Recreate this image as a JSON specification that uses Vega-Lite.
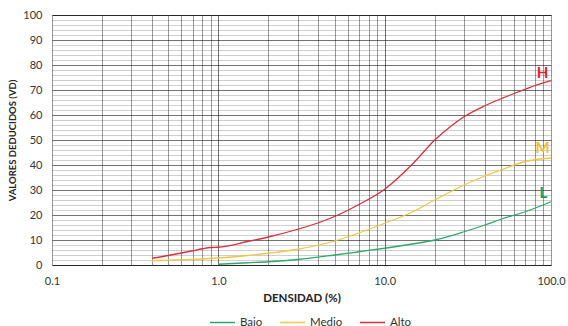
{
  "$schema": "https://vega.github.io/schema/vega-lite/v6.json",
  "width": 499,
  "height": 250,
  "autosize": "none",
  "padding": {"left": 52, "top": 15, "right": 17, "bottom": 61},
  "config": {
    "font": "Lato",
    "view": {"stroke": "#555555", "strokeWidth": 1},
    "axis": {"labelFont": "Lato", "titleFont": "Lato", "labelColor": "#333333", "titleColor": "#222222"}
  },
  "datasets": {
    "curves": [
      {"serie": "Alto", "densidad": 0.4, "vd": 2.7},
      {"serie": "Alto", "densidad": 0.5, "vd": 3.8},
      {"serie": "Alto", "densidad": 0.6, "vd": 4.8},
      {"serie": "Alto", "densidad": 0.7, "vd": 5.7},
      {"serie": "Alto", "densidad": 0.8, "vd": 6.5},
      {"serie": "Alto", "densidad": 0.9, "vd": 7.0},
      {"serie": "Alto", "densidad": 1.0, "vd": 7.1},
      {"serie": "Alto", "densidad": 1.5, "vd": 9.4},
      {"serie": "Alto", "densidad": 2, "vd": 11.2},
      {"serie": "Alto", "densidad": 3, "vd": 14.3},
      {"serie": "Alto", "densidad": 4, "vd": 16.9},
      {"serie": "Alto", "densidad": 5, "vd": 19.4},
      {"serie": "Alto", "densidad": 7, "vd": 24.2},
      {"serie": "Alto", "densidad": 10, "vd": 30.3},
      {"serie": "Alto", "densidad": 15, "vd": 41},
      {"serie": "Alto", "densidad": 20, "vd": 50},
      {"serie": "Alto", "densidad": 25, "vd": 55.5},
      {"serie": "Alto", "densidad": 30, "vd": 59.3},
      {"serie": "Alto", "densidad": 40, "vd": 63.7},
      {"serie": "Alto", "densidad": 50, "vd": 66.5},
      {"serie": "Alto", "densidad": 60, "vd": 68.6},
      {"serie": "Alto", "densidad": 70, "vd": 70.3},
      {"serie": "Alto", "densidad": 80, "vd": 71.8},
      {"serie": "Alto", "densidad": 100, "vd": 73.8},
      {"serie": "Medio", "densidad": 0.4, "vd": 1.7},
      {"serie": "Medio", "densidad": 0.6, "vd": 2.1},
      {"serie": "Medio", "densidad": 1.0, "vd": 2.8},
      {"serie": "Medio", "densidad": 1.5, "vd": 3.8},
      {"serie": "Medio", "densidad": 2, "vd": 4.7},
      {"serie": "Medio", "densidad": 3, "vd": 6.3},
      {"serie": "Medio", "densidad": 5, "vd": 9.6},
      {"serie": "Medio", "densidad": 7, "vd": 12.8},
      {"serie": "Medio", "densidad": 10, "vd": 16.7},
      {"serie": "Medio", "densidad": 15, "vd": 21.5},
      {"serie": "Medio", "densidad": 20, "vd": 26},
      {"serie": "Medio", "densidad": 30, "vd": 32},
      {"serie": "Medio", "densidad": 40, "vd": 35.6},
      {"serie": "Medio", "densidad": 50, "vd": 38},
      {"serie": "Medio", "densidad": 70, "vd": 41.4},
      {"serie": "Medio", "densidad": 100, "vd": 42.8},
      {"serie": "Bajo", "densidad": 1.0, "vd": 0.3},
      {"serie": "Bajo", "densidad": 1.5, "vd": 0.9},
      {"serie": "Bajo", "densidad": 2, "vd": 1.3},
      {"serie": "Bajo", "densidad": 3, "vd": 2.2},
      {"serie": "Bajo", "densidad": 5, "vd": 4.0},
      {"serie": "Bajo", "densidad": 7, "vd": 5.3},
      {"serie": "Bajo", "densidad": 10, "vd": 6.7},
      {"serie": "Bajo", "densidad": 15, "vd": 8.5},
      {"serie": "Bajo", "densidad": 20, "vd": 10},
      {"serie": "Bajo", "densidad": 30, "vd": 13.3},
      {"serie": "Bajo", "densidad": 40, "vd": 16},
      {"serie": "Bajo", "densidad": 50, "vd": 18.3},
      {"serie": "Bajo", "densidad": 70, "vd": 21.3},
      {"serie": "Bajo", "densidad": 100, "vd": 25.3}
    ],
    "labels": [
      {"serie": "Alto", "etiqueta": "H", "densidad": 89, "vd": 76.7},
      {"serie": "Medio", "etiqueta": "M", "densidad": 89, "vd": 46.7},
      {"serie": "Bajo", "etiqueta": "L", "densidad": 90, "vd": 28.7}
    ]
  },
  "encoding": {
    "x": {
      "field": "densidad", "type": "quantitative",
      "scale": {"type": "log", "domain": [0.1, 100], "nice": false},
      "axis": {
        "title": "DENSIDAD (%)",
        "titleFontWeight": "bold", "titleFontSize": 11.5, "titlePadding": 6,
        "values": [0.1,0.2,0.3,0.4,0.5,0.6,0.7,0.8,0.9,1,2,3,4,5,6,7,8,9,10,20,30,40,50,60,70,80,90,100],
        "labelExpr": "(datum.value == 0.1 || datum.value == 1 || datum.value == 10 || datum.value == 100) ? format(datum.value, '.1f') : ''",
        "labelFlush": false, "labelOverlap": false, "labelFontSize": 11, "labelPadding": 10,
        "ticks": false, "domain": false,
        "grid": true,
        "gridColor": {"condition": {"test": "datum.value == 1 || datum.value == 10", "value": "#707070"}, "value": "#9a9a9a"},
        "gridOpacity": 1
      }
    },
    "y": {
      "field": "vd", "type": "quantitative",
      "scale": {"domain": [0, 100], "nice": false},
      "axis": {
        "title": "VALORES DEDUCIDOS (VD)",
        "titleFontWeight": "bold", "titleFontSize": 9.5, "titlePadding": 5,
        "values": [0,2,4,6,8,10,12,14,16,18,20,22,24,26,28,30,32,34,36,38,40,42,44,46,48,50,52,54,56,58,60,62,64,66,68,70,72,74,76,78,80,82,84,86,88,90,92,94,96,98,100],
        "labelExpr": "datum.value % 10 == 0 ? format(datum.value, 'd') : ''",
        "labelOverlap": false, "labelFontSize": 11, "labelPadding": 10,
        "ticks": false, "domain": false,
        "grid": true,
        "gridColor": "#000000",
        "gridOpacity": {"condition": {"test": "datum.value % 10 == 0", "value": 0.55}, "value": 0.19}
      }
    }
  },
  "layer": [
    {
      "data": {"name": "curves"},
      "mark": {"type": "line", "strokeWidth": 1.3, "interpolate": "monotone"},
      "encoding": {
        "color": {
          "field": "serie", "type": "nominal",
          "scale": {"domain": ["Bajo", "Medio", "Alto"], "range": ["#2fa86c", "#f2c744", "#d8303c"]},
          "legend": {
            "title": null, "orient": "none", "direction": "horizontal",
            "legendX": 157, "legendY": 294, "padding": 0,
            "symbolType": "stroke", "symbolSize": 625, "symbolStrokeWidth": 1.5,
            "labelFontSize": 11.5, "labelColor": "#333333", "labelOffset": 4, "columnPadding": 14
          }
        }
      }
    },
    {
      "data": {"name": "labels"},
      "mark": {"type": "text", "fontWeight": "bold", "fontSize": 15, "font": "Lato"},
      "encoding": {
        "text": {"field": "etiqueta"},
        "fill": {
          "field": "serie", "type": "nominal",
          "scale": {"domain": ["Bajo", "Medio", "Alto"], "range": ["#1f9a4c", "#f0c030", "#e3232b"]},
          "legend": null
        }
      }
    }
  ]
}
